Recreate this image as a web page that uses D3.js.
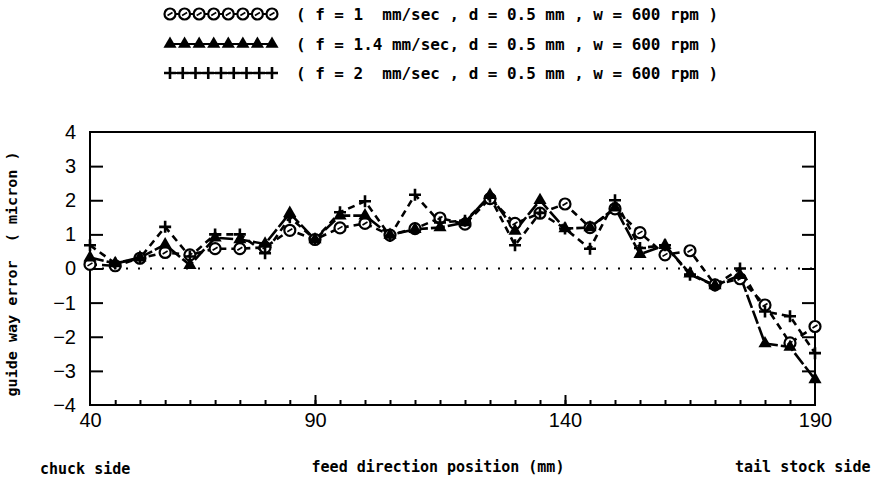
<!DOCTYPE html>
<html lang="en">
<head>
  <meta charset="UTF-8">
  <title>guide way error</title>
  <script src="https://d3js.org/d3.v7.min.js"></script>
  <style>
    body { margin: 0; background: #fff; }
    svg text { fill: #000; }
  </style>
</head>
<body>
  <div id="chart"></div>

  <script>
    // feed direction positions (mm) where the error was measured
    const positions = [40, 45.6, 51.1, 56.7, 62.2, 67.8, 73.3, 78.9, 84.4, 90,
                       95, 100, 105, 110, 115, 120, 125, 130, 135, 140,
                       145, 150, 155, 160, 165, 170, 175, 180, 185, 190];

    // guide way error (micron)
    const errF1 = [0.12, 0.08, 0.3, 0.47, 0.4, 0.58, 0.58, 0.62, 1.12, 0.85,
                   1.19, 1.32, 0.98, 1.17, 1.48, 1.3, 2.05, 1.32, 1.62, 1.89,
                   1.2, 1.75, 1.05, 0.4, 0.52, -0.48, -0.3, -1.07, -2.18, -1.7];
    const errF14 = [0.32, 0.15, 0.32, 0.7, 0.1, 0.9, 0.85, 0.72, 1.62, 0.85,
                    1.55, 1.55, 0.98, 1.15, 1.2, 1.35, 2.15, 1.1, 2.0, 1.17,
                    1.2, 1.78, 0.42, 0.68, -0.15, -0.5, -0.2, -2.2, -2.3, -3.25];
    const errF2 = [0.68, 0.15, 0.3, 1.22, 0.35, 1.0, 1.0, 0.45, 1.5, 0.85,
                   1.65, 1.97, 0.95, 2.16, 1.35, 1.4, 2.1, 0.68, 1.63, 1.17,
                   0.58, 2.0, 0.6, 0.68, -0.18, -0.5, 0.0, -1.26, -1.4, -2.48];

    const legendLabels = [
      "( f = 1  mm/sec , d = 0.5 mm , w = 600 rpm )",
      "( f = 1.4 mm/sec, d = 0.5 mm , w = 600 rpm )",
      "( f = 2  mm/sec , d = 0.5 mm , w = 600 rpm )"
    ];
    const xTickValues = [40, 90, 140, 190];
    const yTickValues = [-4, -3, -2, -1, 0, 1, 2, 3, 4];

    const W = 886, H = 479;
    const mono = "'DejaVu Sans Mono', monospace";

    const svg = d3.select("#chart").append("svg")
      .attr("width", W)
      .attr("height", H);

    // the printed axis is not quite uniform: 40..90 is squeezed
    const x = d3.scaleLinear().domain([40, 90, 190]).range([90, 315, 815]);
    const y = d3.scaleLinear().domain([-4, 4]).range([405, 132]);

    const series = [
      {values: errF1, marker: "circle", dash: "7,5"},
      {values: errF14, marker: "triangle", dash: "14,3"},
      {values: errF2, marker: "plus", dash: "7,5"}
    ];

    // frame
    svg.append("rect")
      .attr("x", x(40)).attr("y", y(4))
      .attr("width", x(190) - x(40)).attr("height", y(-4) - y(4))
      .attr("fill", "none").attr("stroke", "#000").attr("stroke-width", 2);

    // zero line
    svg.append("line")
      .attr("x1", x(40)).attr("x2", x(190))
      .attr("y1", y(0)).attr("y2", y(0))
      .attr("stroke", "#000").attr("stroke-width", 2)
      .attr("stroke-dasharray", "2,10");

    // left / right ticks, drawn inward
    const inner = yTickValues.filter(d => d > -4 && d < 4);
    svg.append("g").attr("transform", `translate(${x(40)},0)`)
      .call(d3.axisRight(y).tickValues(inner).tickSize(13).tickFormat(""))
      .call(g => g.select(".domain").remove())
      .selectAll("line").attr("stroke-width", 2);
    svg.append("g").attr("transform", `translate(${x(190)},0)`)
      .call(d3.axisLeft(y).tickValues(inner).tickSize(13).tickFormat(""))
      .call(g => g.select(".domain").remove())
      .selectAll("line").attr("stroke-width", 2);

    // y labels
    svg.append("g").attr("transform", `translate(${x(40)},0)`)
      .call(d3.axisLeft(y).tickValues(yTickValues).tickSize(0).tickPadding(14))
      .call(g => g.select(".domain").remove())
      .selectAll("text")
      .attr("font-family", "'Liberation Sans', Arial, sans-serif")
      .attr("font-size", 20);

    // bottom: minor ticks at each measuring position, major ticks longer
    svg.append("g").attr("transform", `translate(0,${y(-4)})`)
      .call(d3.axisTop(x).tickValues(positions.slice(1, -1)).tickSize(5).tickFormat(""))
      .call(g => g.select(".domain").remove())
      .selectAll("line").attr("stroke-width", 2);
    svg.append("g").attr("transform", `translate(0,${y(-4)})`)
      .call(d3.axisTop(x).tickValues([90, 140]).tickSize(10).tickFormat(""))
      .call(g => g.select(".domain").remove())
      .selectAll("line").attr("stroke-width", 2);
    svg.append("g").attr("transform", `translate(0,${y(-4)})`)
      .call(d3.axisBottom(x).tickValues(xTickValues).tickSize(0).tickPadding(8))
      .call(g => g.select(".domain").remove())
      .selectAll("text")
      .attr("font-family", "'Liberation Sans', Arial, sans-serif")
      .attr("font-size", 20);

    // series lines
    const line = d3.line().x((d, i) => x(positions[i])).y(d => y(d));
    svg.append("g").selectAll("path")
      .data(series)
      .join("path")
      .attr("d", d => line(d.values))
      .attr("fill", "none")
      .attr("stroke", "#000")
      .attr("stroke-width", 2.6)
      .attr("stroke-dasharray", d => d.dash);

    function drawMarker(g, kind) {
      if (kind === "circle") {
        g.append("circle").attr("r", 5.5)
          .attr("fill", "#fff").attr("stroke", "#000").attr("stroke-width", 2.2);
        g.append("line").attr("x1", -2.5).attr("x2", 2.5).attr("y1", 1.5).attr("y2", -1.5)
          .attr("stroke", "#000").attr("stroke-width", 1.6);
      } else if (kind === "triangle") {
        g.append("path").attr("d", d3.symbol(d3.symbolTriangle, 75)())
          .attr("fill", "#000");
      } else {
        g.append("path").attr("d", "M-6,0H6M0,-6V6")
          .attr("stroke", "#000").attr("stroke-width", 2.6);
      }
    }

    series.forEach(s => {
      svg.append("g").selectAll("g")
        .data(s.values)
        .join("g")
        .attr("transform", (d, i) => `translate(${x(positions[i])},${y(d)})`)
        .each(function () { drawMarker(d3.select(this), s.marker); });
    });

    // legend
    const legendCounts = [8, 8, 9];
    const legendY = [14, 44, 73];
    series.forEach((s, k) => {
      const n = legendCounts[k];
      const lx = d3.scaleLinear().domain([0, n - 1]).range([170, 272]);
      svg.append("line")
        .attr("x1", lx(0)).attr("x2", lx(n - 1))
        .attr("y1", legendY[k]).attr("y2", legendY[k])
        .attr("stroke", "#000").attr("stroke-width", 2);
      svg.append("g").selectAll("g")
        .data(d3.range(n))
        .join("g")
        .attr("transform", i => `translate(${lx(i)},${legendY[k]})`)
        .each(function () { drawMarker(d3.select(this), s.marker); });
      svg.append("text")
        .attr("x", 296).attr("y", legendY[k] + 6)
        .attr("font-family", mono).attr("font-weight", "bold")
        .attr("font-size", 16)
        .attr("textLength", 422).attr("lengthAdjust", "spacingAndGlyphs")
        .attr("xml:space", "preserve")
        .style("white-space", "pre")
        .text(legendLabels[k]);
    });

    // axis titles
    svg.append("text")
      .attr("transform", "translate(17,274) rotate(-90)")
      .attr("text-anchor", "middle")
      .attr("font-family", mono).attr("font-weight", "bold").attr("font-size", 14)
      .attr("textLength", 245).attr("lengthAdjust", "spacingAndGlyphs")
      .style("white-space", "pre")
      .text("guide way error  ( micron )");

    svg.append("text")
      .attr("x", 438).attr("y", 472)
      .attr("text-anchor", "middle")
      .attr("font-family", mono).attr("font-weight", "bold").attr("font-size", 15)
      .text("feed direction position (mm)");

    svg.append("text")
      .attr("x", 40).attr("y", 474)
      .attr("font-family", mono).attr("font-weight", "bold").attr("font-size", 15)
      .text("chuck side");

    svg.append("text")
      .attr("x", 735).attr("y", 472)
      .attr("font-family", mono).attr("font-weight", "bold").attr("font-size", 15)
      .text("tail stock side");
  </script>
</body>
</html>
